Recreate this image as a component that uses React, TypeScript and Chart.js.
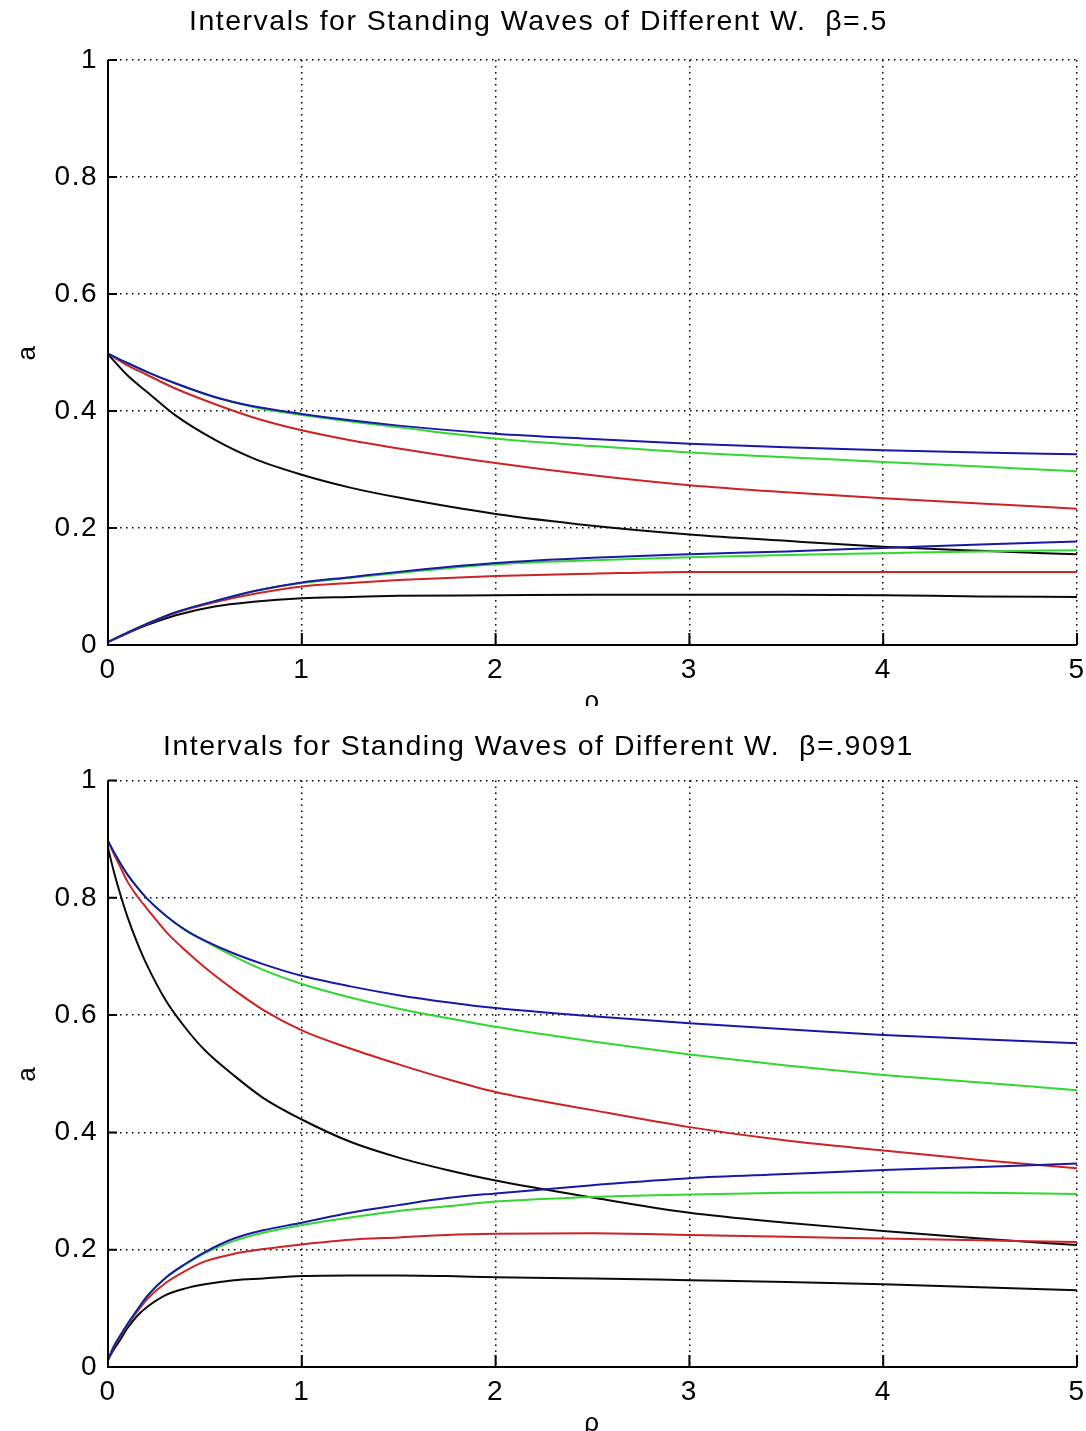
import React, { useEffect, useRef } from "react";
import { Chart, registerables } from "chart.js";

Chart.register(...registerables);

const FONT = '"Liberation Sans", Arial, Helvetica, sans-serif';

// ---------- data ----------
const TITLE_TOP = "Intervals for Standing Waves of Different W.  \u03b2=.5";
const TITLE_BOTTOM = "Intervals for Standing Waves of Different W.  \u03b2=.9091";
const X_LABEL = "\u03c1";
const Y_LABEL = "a";

const rhoTop = [0, 0.1, 0.2, 0.35, 0.55, 0.75, 1, 1.25, 1.5, 2, 2.5, 3, 3.5, 4, 4.5, 5];
const topBlueHi = [0.498, 0.482, 0.467, 0.447, 0.424, 0.408, 0.395, 0.384, 0.375, 0.361, 0.352, 0.344, 0.338, 0.333, 0.329, 0.326];
const topGreenHi = [0.498, 0.482, 0.467, 0.447, 0.424, 0.407, 0.393, 0.382, 0.372, 0.353, 0.340, 0.329, 0.321, 0.313, 0.305, 0.297];
const topRedHi = [0.498, 0.478, 0.462, 0.438, 0.412, 0.389, 0.367, 0.350, 0.336, 0.311, 0.290, 0.273, 0.261, 0.251, 0.242, 0.233];
const topBlackHi = [0.497, 0.461, 0.433, 0.392, 0.351, 0.319, 0.291, 0.269, 0.252, 0.224, 0.204, 0.189, 0.178, 0.168, 0.161, 0.155];
const topBlueLo = [0.005, 0.021, 0.036, 0.056, 0.075, 0.092, 0.107, 0.116, 0.125, 0.140, 0.149, 0.155, 0.160, 0.166, 0.172, 0.177];
const topGreenLo = [0.005, 0.021, 0.036, 0.056, 0.075, 0.092, 0.106, 0.115, 0.123, 0.138, 0.145, 0.150, 0.154, 0.157, 0.160, 0.162];
const topRedLo = [0.005, 0.021, 0.036, 0.055, 0.073, 0.087, 0.100, 0.106, 0.111, 0.118, 0.122, 0.125, 0.125, 0.125, 0.125, 0.125];
const topBlackLo = [0.005, 0.020, 0.034, 0.051, 0.066, 0.074, 0.080, 0.082, 0.084, 0.085, 0.086, 0.086, 0.086, 0.085, 0.083, 0.082];

const rhoBottom = [0, 0.03, 0.06, 0.1, 0.15, 0.2, 0.3, 0.4, 0.5, 0.65, 0.8, 1, 1.25, 1.5, 1.75, 2, 2.5, 3, 3.5, 4, 4.5, 5];
const botBlueHi = [0.897, 0.878, 0.861, 0.840, 0.818, 0.799, 0.769, 0.745, 0.727, 0.705, 0.687, 0.667, 0.649, 0.634, 0.622, 0.612, 0.598, 0.586, 0.576, 0.566, 0.559, 0.552];
const botGreenHi = [0.897, 0.878, 0.861, 0.840, 0.818, 0.799, 0.769, 0.745, 0.726, 0.700, 0.677, 0.653, 0.630, 0.611, 0.595, 0.580, 0.555, 0.533, 0.514, 0.498, 0.485, 0.472];
const botRedHi = [0.897, 0.875, 0.855, 0.828, 0.803, 0.782, 0.742, 0.710, 0.681, 0.643, 0.609, 0.574, 0.543, 0.516, 0.491, 0.469, 0.438, 0.409, 0.386, 0.369, 0.353, 0.339];
const botBlackHi = [0.885, 0.845, 0.810, 0.768, 0.724, 0.686, 0.624, 0.578, 0.540, 0.497, 0.459, 0.422, 0.384, 0.357, 0.336, 0.318, 0.289, 0.263, 0.246, 0.232, 0.219, 0.208];
const botBlueLo = [0.012, 0.035, 0.052, 0.073, 0.097, 0.120, 0.153, 0.176, 0.196, 0.219, 0.233, 0.246, 0.263, 0.276, 0.288, 0.296, 0.310, 0.322, 0.329, 0.336, 0.341, 0.347];
const botGreenLo = [0.012, 0.035, 0.052, 0.073, 0.097, 0.120, 0.152, 0.175, 0.194, 0.215, 0.229, 0.242, 0.255, 0.266, 0.274, 0.282, 0.290, 0.294, 0.297, 0.298, 0.297, 0.295];
const botRedLo = [0.012, 0.034, 0.050, 0.072, 0.094, 0.115, 0.144, 0.164, 0.180, 0.193, 0.201, 0.209, 0.217, 0.221, 0.225, 0.227, 0.228, 0.225, 0.222, 0.219, 0.216, 0.213];
const botBlackLo = [0.012, 0.030, 0.045, 0.066, 0.087, 0.102, 0.123, 0.134, 0.141, 0.148, 0.151, 0.155, 0.156, 0.156, 0.155, 0.153, 0.151, 0.148, 0.145, 0.141, 0.136, 0.131];

const xTicks = [0, 1, 2, 3, 4, 5];
const yTicks = [0, 0.2, 0.4, 0.6, 0.8, 1];

// ---------- styling ----------
const BLUE = "rgb(25,25,165)";
const GREEN = "rgb(50,215,50)";
const RED = "rgb(205,35,35)";
const BLACK = "rgb(10,10,10)";
const LETTER_SPACING = "1.5px";

const matlabAxes = {
  id: "matlabAxes",
  beforeLayout(chart: any) {
    (chart.ctx as any).letterSpacing = LETTER_SPACING;
  },
  beforeDraw(chart: any) {
    (chart.ctx as any).letterSpacing = LETTER_SPACING;
  },
  afterDatasetsDraw(chart: any) {
    const { ctx, chartArea } = chart;
    const { left, right, top, bottom } = chartArea;
    const xs = chart.scales.x;
    const ys = chart.scales.y;
    ctx.save();
    ctx.setLineDash([]);
    ctx.strokeStyle = "#000";
    ctx.lineWidth = 2;
    ctx.beginPath();
    ctx.moveTo(left, top);
    ctx.lineTo(left, bottom);
    ctx.lineTo(right, bottom);
    ctx.stroke();
    ctx.beginPath();
    xs.ticks.forEach((t: any) => {
      const px = xs.getPixelForValue(t.value);
      ctx.moveTo(px, bottom);
      ctx.lineTo(px, bottom - 12);
    });
    ys.ticks.forEach((t: any) => {
      const py = ys.getPixelForValue(t.value);
      ctx.moveTo(left, py);
      ctx.lineTo(left + 9, py);
    });
    ctx.stroke();
    ctx.restore();
  },
};

function series(xs: number[], ys: number[], color: string) {
  return {
    data: xs.map((x, i) => ({ x, y: ys[i] })),
    borderColor: color,
    backgroundColor: color,
    borderWidth: 2,
    pointRadius: 0,
    fill: false,
    cubicInterpolationMode: "monotone",
  };
}

interface PanelCfg {
  title: string;
  rho: number[];
  lines: [number[], string][];
  titlePadTop: number;
  titlePadBottom: number;
  xHeight: number;
  xTitlePadBottom: number;
}

function makeConfig(p: PanelCfg): any {
  const tickFont = { family: FONT, size: 28, weight: "normal" as const };
  const labelFont = { family: FONT, size: 26, weight: "normal" as const };
  return {
    type: "line",
    data: {
      datasets: p.lines.map(([v, c]) => series(p.rho, v, c)),
    },
    options: {
      animation: false,
      responsive: false,
      maintainAspectRatio: false,
      events: [],
      layout: { padding: { left: 0, right: 9, top: 0, bottom: 0 } },
      plugins: {
        legend: { display: false },
        tooltip: { enabled: false },
        title: {
          display: true,
          text: p.title,
          color: "#000",
          font: { family: FONT, size: 28.5, weight: "normal" },
          padding: { top: p.titlePadTop, bottom: p.titlePadBottom },
        },
      },
      scales: {
        x: {
          type: "linear",
          min: 0,
          max: 5,
          afterFit: (s: any) => {
            s.height = p.xHeight;
            s.paddingLeft = 0;
            s.paddingRight = 0;
          },
          afterBuildTicks: (s: any) => {
            s.ticks = xTicks.map((v) => ({ value: v }));
          },
          ticks: {
            autoSkip: false,
            maxRotation: 0,
            padding: 8,
            color: "#000",
            font: tickFont,
            callback: (v: any) => String(v),
          },
          grid: { color: "#000", lineWidth: 1.5, drawTicks: false },
          border: { display: false, dash: [1.5, 4.5] },
          title: {
            display: true,
            text: X_LABEL,
            color: "#000",
            font: labelFont,
            padding: { top: 0, bottom: p.xTitlePadBottom },
          },
        },
        y: {
          type: "linear",
          min: 0,
          max: 1,
          afterFit: (s: any) => {
            s.width = 108;
          },
          afterBuildTicks: (s: any) => {
            s.ticks = yTicks.map((v) => ({ value: v }));
          },
          ticks: {
            autoSkip: false,
            padding: 10,
            color: "#000",
            font: tickFont,
            callback: (v: any) => String(Math.round(v * 10) / 10),
          },
          grid: { color: "#000", lineWidth: 1.5, drawTicks: false },
          border: { display: false, dash: [1.5, 4.5] },
          title: {
            display: true,
            text: Y_LABEL,
            color: "#000",
            font: labelFont,
            padding: { top: 12, bottom: 0 },
          },
        },
      },
    },
    plugins: [matlabAxes],
  };
}

function Panel(props: { top: number; height: number; canvasHeight: number; cfg: PanelCfg }) {
  const ref = useRef<HTMLCanvasElement | null>(null);
  useEffect(() => {
    if (!ref.current) return;
    const chart = new Chart(ref.current, makeConfig(props.cfg));
    return () => chart.destroy();
  }, []);
  return (
    <div
      style={{
        position: "absolute",
        left: 0,
        top: props.top,
        width: 1086,
        height: props.height,
        overflow: "hidden",
        background: "#fff",
      }}
    >
      <canvas
        ref={ref}
        width={1086}
        height={props.canvasHeight}
        style={{ display: "block", width: 1086, height: props.canvasHeight }}
      />
    </div>
  );
}

const topCfg: PanelCfg = {
  title: TITLE_TOP,
  rho: rhoTop,
  lines: [
    [topBlueHi, BLUE],
    [topBlueLo, BLUE],
    [topGreenHi, GREEN],
    [topGreenLo, GREEN],
    [topRedHi, RED],
    [topRedLo, RED],
    [topBlackHi, BLACK],
    [topBlackLo, BLACK],
  ],
  titlePadTop: 5.2,
  titlePadBottom: 20.6,
  xHeight: 95,
  xTitlePadBottom: 22.4,
};

const bottomCfg: PanelCfg = {
  title: TITLE_BOTTOM,
  rho: rhoBottom,
  lines: [
    [botBlueHi, BLUE],
    [botBlueLo, BLUE],
    [botGreenHi, GREEN],
    [botGreenLo, GREEN],
    [botRedHi, RED],
    [botRedLo, RED],
    [botBlackHi, BLACK],
    [botBlackLo, BLACK],
  ],
  titlePadTop: 23.7,
  titlePadBottom: 16.6,
  xHeight: 99,
  xTitlePadBottom: 26.4,
};

export default function App() {
  return (
    <div style={{ position: "absolute", left: 0, top: 0, width: 1086, height: 1431, background: "#fff" }}>
      <Panel top={0} height={706} canvasHeight={740} cfg={topCfg} />
      <Panel top={706} height={725} canvasHeight={760} cfg={bottomCfg} />
    </div>
  );
}
